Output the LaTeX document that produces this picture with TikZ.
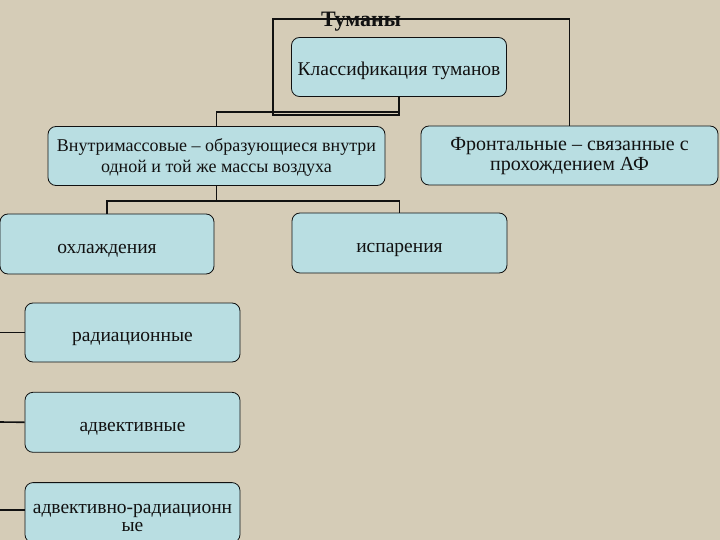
\documentclass[tikz,border=0pt]{standalone}
\usepackage{fontspec}
\setmainfont{Liberation Serif}
\usetikzlibrary{positioning}
\definecolor{paper}{HTML}{D5CCB7}
\definecolor{cell}{HTML}{B9DEE2}
\definecolor{ink}{HTML}{111111}
\tikzset{
  every node/.style={text=ink},
  box/.style={draw=ink,line width=0.8pt,rounded corners=8pt,fill=cell,minimum width=215pt,minimum height=59pt,align=center,inner sep=2pt,font=\fontsize{19.5}{18}\selectfont,text height=18pt,text depth=0pt},
  widebox/.style={box,font=\fontsize{18}{21}\selectfont,text height=34pt,text depth=0pt},
  link/.style={draw=ink,line width=1.6pt},
  heading/.style={inner sep=0pt,font=\fontsize{22}{24}\selectfont\bfseries},
}

\begin{document}
\begin{tikzpicture}[x=1pt,y=-1pt,node distance=29.5pt]
\fill[paper] (0,0) rectangle (720,540);
\clip (0,0) rectangle (720,540);

% top level
\node[box] (klass) at (399,67) {Классификация туманов};
\node[widebox,minimum width=337pt] (vnutri) at (216.5,156) {Внутримассовые – образующиеся внутри\\одной и той же массы воздуха};
\node[widebox,minimum width=297pt,font=\fontsize{20}{20}\selectfont,text height=31pt] (front) at (569.5,155.5) {Фронтальные – связанные с\\прохождением АФ};

% second level
\node[box,minimum width=214pt,minimum height=60pt] (ohl) at (107,244) {охлаждения};
\node[box,minimum height=60pt] (isp) at (399.5,243) {испарения};

% cooling kinds
\node[box] (rad) at (132.5,332.5) {радиационные};
\node[box,minimum height=60pt,below=of rad] (adv) {адвективные};
\node[box,minimum height=60pt,below=of adv,text height=38pt] (advrad) {адвективно-радиационн\\ые};

\coordinate (loop) at (273,19);
\coordinate (radin) at (0,332.5);
\coordinate (advin) at (0,422);
\coordinate (advradin) at (0,510);

\draw[link] (klass.south) -- ++(0,15) -| (vnutri.north);
\draw[link] (klass.south) -- ++(0,18) -| (loop) -| (front.north);
\draw[link] (vnutri.south) -- ++(0,15) -| (ohl.north);
\draw[link] (vnutri.south) -- ++(0,15) -| (isp.north);
\draw[link] (radin) -- (rad.west);
\draw[link] (advin) -- (adv.west);
\draw[link] (advradin) -- (advradin -| advrad.west);

\node[heading,anchor=base] (title) at (361,27) {Туманы};
\end{tikzpicture}
\end{document}
